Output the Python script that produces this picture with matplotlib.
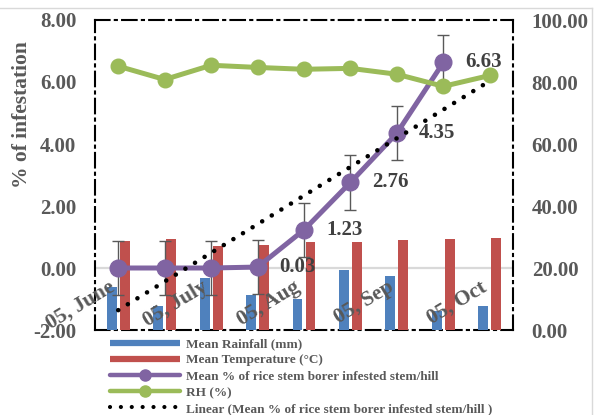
import numpy as np
import matplotlib
matplotlib.use("Agg")
import matplotlib.pyplot as plt
from matplotlib.lines import Line2D
from matplotlib.transforms import blended_transform_factory

plt.rcParams['font.family'] = ['Liberation Serif', 'DejaVu Serif']
plt.rcParams['font.weight'] = 'bold'

# ---- data -------------------------------------------------------------
tick_labels = ["05, June", "05, July", "05, Aug", "05, Sep", "05, Oct"]
tick_every = 2
n_obs = 9

rainfall = [14.0, 7.8, 16.9, 11.4, 10.1, 19.2, 17.5, 6.2, 7.8]          # mm
temperature = [28.7, 29.2, 27.0, 27.3, 28.5, 28.5, 29.0, 29.4, 29.6]    # deg C
rh = [85.1, 80.8, 85.4, 84.7, 84.1, 84.4, 82.5, 78.6, 82.1]             # %
infest = [0.00, 0.00, 0.00, 0.03, 1.23, 2.76, 4.35, 6.63]              # % stem/hill
infest_err = [0.88, 0.88, 0.88, 0.88, 0.88, 0.88, 0.88, 0.88]

# ---- colours ----------------------------------------------------------
C_BLUE = "#4F81BD"
C_RED = "#C0504D"
C_PURPLE = "#8064A2"
C_GREEN = "#9BBB59"
C_TEXT = "#595959"
C_LABEL = "#404040"

fig = plt.figure(figsize=(5.94, 4.15), dpi=100)
ax = fig.add_axes([95 / 594, 1 - 330 / 415, (513 - 95) / 594, (330 - 20) / 415])
ax2 = ax.twinx()

# primary axis drawn above the secondary so the lines sit on the bars
ax.set_zorder(ax2.get_zorder() + 1)
ax.patch.set_visible(False)

x_all = np.arange(n_obs)
x_inf = np.arange(len(infest))

# ---- secondary axis: bars --------------------------------------------
bw = 0.215
off = 0.14
ax2.bar(x_all - off, rainfall, width=bw, color=C_BLUE, zorder=3)
ax2.bar(x_all + off, temperature, width=bw, color=C_RED, zorder=3)

# category axis line at zero of the primary scale
zero_tr = blended_transform_factory(ax2.transAxes, ax.transData)
ax2.add_line(Line2D([0, 1], [0, 0], transform=zero_tr, color="#D9D9D9",
                    lw=1.6, zorder=1))

# ---- primary axis: infestation, RH line, trend ------------------------
ax.errorbar(x_inf, infest, yerr=infest_err, fmt="none", ecolor=C_TEXT,
            elinewidth=1.0, capsize=4.6, capthick=1.0, zorder=2)
ax.plot(x_inf, infest, color=C_PURPLE, lw=3.6, marker="o", ms=12,
        solid_capstyle="round", zorder=3)
ax.plot(x_all, rh, color=C_GREEN, lw=3.6, marker="o", ms=10.5,
        transform=ax2.transData, zorder=4)

coef = np.polyfit(x_inf, infest, 1)
trend_x = np.arange(n_obs)
ax.plot(trend_x, np.polyval(coef, trend_x), color="black", lw=3.3,
        linestyle=(0, (0.01, 2.45)), dash_capstyle="round", zorder=5)

for xi, v in zip(x_inf, infest):
    if v > 0:
        ax.annotate(f"{v:.2f}", (xi, v), xytext=(15.8, 0),
                    textcoords="offset points", ha="left", va="center",
                    fontsize=15, fontweight="bold", color=C_LABEL, zorder=6)

# ---- scales, ticks ----------------------------------------------------
ax.set_xlim(-0.5, n_obs - 0.5)
ax.set_ylim(-2, 8)
ax.set_yticks(np.arange(-2, 8.01, 2))
ax.yaxis.set_major_formatter(matplotlib.ticker.FormatStrFormatter("%.2f"))
ax2.set_ylim(0, 100)
ax2.set_yticks(np.arange(0, 100.01, 20))
ax2.yaxis.set_major_formatter(matplotlib.ticker.FormatStrFormatter("%.2f"))

ax.tick_params(axis="y", length=0, pad=13.5, labelsize=15, labelcolor=C_TEXT)
ax2.tick_params(axis="y", length=0, pad=13.5, labelsize=15, labelcolor=C_TEXT)

ax.spines["bottom"].set_position(("data", 0))
for s in ax.spines.values():
    s.set_visible(False)
ax.set_xticks(x_all[::tick_every])
ax.set_xticklabels(tick_labels, rotation=31, ha="right", va="top",
                   fontsize=15.5, color=C_TEXT, fontweight="bold")
ax.tick_params(axis="x", length=0, pad=6.5)

for s in ax2.spines.values():
    s.set_color("black")
    s.set_linewidth(1.5)
    s.set_linestyle((0, (7, 2.5, 1, 2.5)))

fig.text(22 / 594, 1 - 115 / 415, "% of infestation", rotation=90,
         ha="center", va="center", fontsize=15.5, fontweight="bold", color=C_TEXT)

# ---- legend -----------------------------------------------------------
handles = [
    Line2D([], [], color=C_BLUE, lw=4.5, solid_capstyle="butt"),
    Line2D([], [], color=C_RED, lw=4.5, solid_capstyle="butt"),
    Line2D([], [], color=C_PURPLE, lw=3.2, marker="o", ms=8, solid_capstyle="round"),
    Line2D([], [], color=C_GREEN, lw=3.2, marker="o", ms=8, solid_capstyle="round"),
    Line2D([], [], color="black", lw=3.0, linestyle=(0, (0.01, 2.6)),
           dash_capstyle="round"),
]
labels = ["Mean Rainfall (mm)", "Mean Temperature (\u00b0C)",
          "Mean % of rice stem borer infested stem/hill", "RH (%)",
          "Linear (Mean % of rice stem borer infested stem/hill )"]
leg = fig.legend(handles, labels, loc="upper left",
                 bbox_to_anchor=(110 / 594, 1 - 338 / 415), frameon=False,
                 borderpad=0, borderaxespad=0, handlelength=5.3,
                 handletextpad=0.45, labelspacing=0.3,
                 prop={"size": 9.5, "weight": "bold"})
for t in leg.get_texts():
    t.set_color(C_TEXT)

# light chart border
fig.add_artist(Line2D([0, 592 / 594], [1 - 8 / 415, 1 - 8 / 415],
                      transform=fig.transFigure, color="#D9D9D9", lw=1))
fig.add_artist(Line2D([592 / 594, 592 / 594], [0, 1 - 8 / 415],
                      transform=fig.transFigure, color="#D9D9D9", lw=1))

fig.savefig("out.png", dpi=100)
